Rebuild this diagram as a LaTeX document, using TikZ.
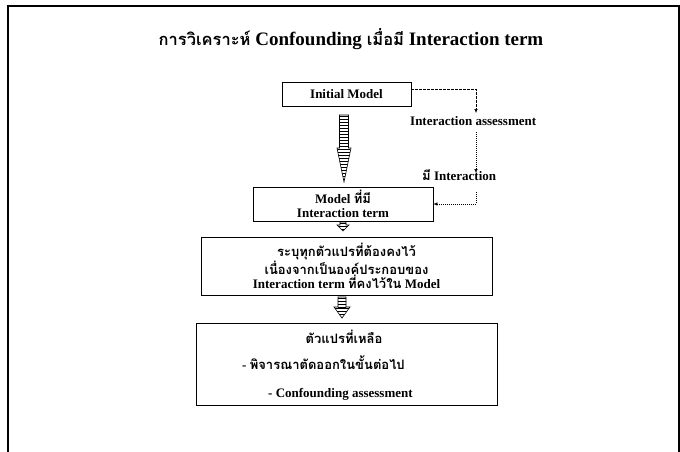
\documentclass[tikz,border=0pt]{standalone}
\usepackage{fontspec}
\setmainfont{Liberation Serif}
\newfontfamily\thaifont[Script=Thai]{Loma}
\newcommand{\thx}[1]{{\thaifont #1}}
\usetikzlibrary{arrows.meta}

% striped block arrow pointing down: x, top, neck, tip, shaft half width, head half width
\newcommand{\hatchdown}[6]{%
  \begin{scope}
    \clip (#1-#5,#2) rectangle (#1+#5,#3);
    \foreach \k in {0,...,11}
      \draw[line width=1.2pt] (#1-#6,#2+1.5+3*\k) -- ++(2*#6,0);
  \end{scope}
  \begin{scope}
    \clip (#1-#6,#3) -- (#1+#6,#3) -- (#1,#4) -- cycle;
    \foreach \k in {0,...,11}
      \draw[line width=1.2pt] (#1-#6,#3+1.5+3*\k) -- ++(2*#6,0);
  \end{scope}
  \draw[line width=0.6pt] (#1-#5,#3) -- (#1-#5,#2) -- (#1+#5,#2) -- (#1+#5,#3)
    -- (#1+#6,#3) -- (#1,#4) -- (#1-#6,#3) -- cycle;
}

\begin{document}
\begin{tikzpicture} [x=1pt,y=-1pt,
  font=\fontsize{13}{14.5}\selectfont\bfseries,
  stepbox/.style={draw,line width=0.9pt,align=center,inner sep=2pt},
  note/.style={inner sep=0pt},
  dashlink/.style={dash pattern=on 2.5pt off 1.5pt,line width=0.5pt,-{Latex[length=4pt,width=3.5pt]}},
  dotlink/.style={dash pattern=on 1pt off 1pt,line width=0.5pt,-{Latex[length=4pt,width=3.5pt]}}]
\useasboundingbox (0,0) rectangle (680,452);
\draw[line width=2pt] (8,452) -- (8,6) -- (679,6) -- (679,452);

\node [note,anchor=base] (title) at (351,46)
  {\fontsize{19}{22}\selectfont{\fontsize{16.5}{22}\selectfont\thx{การวิเคราะห์}}
   Confounding {\fontsize{16.5}{22}\selectfont\thx{เมื่อมี}} Interaction term};

\node [stepbox,minimum width=129pt,minimum height=24pt] (init) at (346.5,94) {Initial Model};
\node [stepbox,minimum width=180pt,minimum height=34pt] (model) at (343,204)
  {Model \thx{ที่มี}\\Interaction term};
\node [stepbox,minimum width=291pt,minimum height=58pt] (keep) at (346.5,266)
  {\thx{ระบุทุกตัวแปรที่ต้องคงไว้}\\\thx{เนื่องจากเป็นองค์ประกอบของ}\\Interaction term \thx{ที่คงไว้ใน} Model};
\node [stepbox,minimum width=301pt,minimum height=82pt] (rest) at (346.5,364) {};
\node [note,anchor=base] (restA) at (344,343) {\thx{ตัวแปรที่เหลือ}};
\node [note,anchor=base west] (restB) at (242,369) {- \thx{พิจารณาตัดออกในขั้นต่อไป}};
\node [note,anchor=base west] (restC) at (268,397) {- Confounding assessment};

% side loop
\node [note,anchor=base west] (ia) at (410,125) {Interaction assessment};
\node [note,anchor=base west] (mi) at (422,180) {\thx{มี} Interaction};
\coordinate (t1) at (476,113);
\coordinate (t2) at (476,173);
\draw [dashlink] ([yshift=5pt]init.east) -| (t1);
\draw [dotlink] ([yshift=-7pt]ia.south -| t1) -- (t2);
\draw [dotlink] ([yshift=-12pt]mi.south -| t1) |- (model.east);

% block arrows
\hatchdown{344}{115}{148}{182}{4.5}{7}
\hatchdown{343}{222}{225}{231}{3}{6}
\hatchdown{342}{297}{307}{318}{4}{8}
\end{tikzpicture}
\end{document}
